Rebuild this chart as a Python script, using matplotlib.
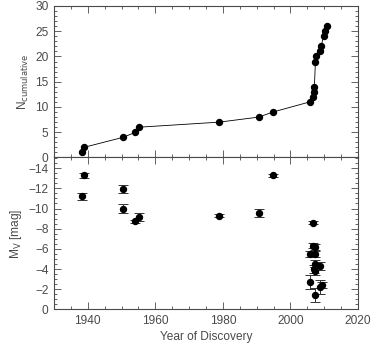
import numpy as np
import matplotlib
matplotlib.use("Agg")
import matplotlib.pyplot as plt
from matplotlib.ticker import MultipleLocator

plt.rcParams['font.family'] = ['Liberation Sans', 'DejaVu Sans']

# cumulative number of satellites vs. discovery date
cum_year = [1938.2, 1938.8, 1950.5, 1954.1, 1955.2, 1978.9, 1990.6, 1994.8,
            2005.7, 2006.8, 2006.9, 2007.1, 2007.4, 2007.6, 2008.7, 2009.1,
            2009.8, 2010.2, 2010.7]
cum_n = [1, 2, 4, 5, 6, 7, 8, 9, 11, 12, 13, 14, 19, 20, 21, 22, 24, 25, 26]

# absolute V magnitudes with errors
mv_year = [1938.2, 1938.8, 1950.5, 1950.5, 1954.0, 1955.1, 1978.9, 1990.6,
           1994.7, 2005.8, 2005.7, 2006.8, 2006.8, 2007.2, 2007.2, 2007.2,
           2008.9, 2007.0, 2007.2, 2009.4, 2008.7, 2007.2]
mv = [-11.2, -13.3, -11.9, -10.0, -8.75, -9.2, -9.3, -9.6,
      -13.3, -5.5, -2.7, -8.6, -6.3, -6.2, -5.5, -4.55,
      -4.35, -4.0, -3.8, -2.45, -2.2, -1.45]
mv_err = [0.35, 0.25, 0.4, 0.4, 0.15, 0.4, 0.15, 0.4,
          0.15, 0.3, 0.7, 0.15, 0.25, 0.3, 0.3, 0.35,
          0.4, 0.4, 0.4, 0.3, 0.7, 0.7]

grey = '#4a4a4a'
fs = 8.6
fig = plt.figure(figsize=(3.79, 3.46), dpi=100)
ax1 = fig.add_axes([0.1425, 0.5448, 0.802, 0.4379])
ax2 = fig.add_axes([0.1425, 0.1055, 0.802, 0.4393])

ax1.plot(cum_year, cum_n, '-', color='k', lw=0.6)
ax1.plot(cum_year, cum_n, 'o', color='k', ms=4.3)
ax1.set_ylim(0, 30)
ax1.yaxis.set_major_locator(MultipleLocator(5))
ax1.yaxis.set_minor_locator(MultipleLocator(1))
ax1.set_ylabel(r'N$_{\rm cumulative}$', color=grey, fontsize=fs, labelpad=3)

ax2.errorbar(mv_year, mv, yerr=mv_err, fmt='o', color='k', ms=4.3,
             ecolor='#333333', elinewidth=0.7, capsize=3.3, capthick=0.7)
ax2.set_ylim(0, -15.05)
ax2.yaxis.set_major_locator(MultipleLocator(2))
ax2.yaxis.set_minor_locator(MultipleLocator(0.5))
ax2.set_ylabel(r'M$_{\rm V}$ [mag]', color=grey, fontsize=fs, labelpad=3)
ax2.set_xlabel('Year of Discovery', color=grey, fontsize=fs, labelpad=3)

for ax in (ax1, ax2):
    ax.set_xlim(1930, 2020)
    ax.set_xticks([1940, 1960, 1980, 2000, 2020])
    ax.xaxis.set_minor_locator(MultipleLocator(5))
    ax.tick_params(which='both', direction='in', top=True, right=True,
                   color=grey, labelcolor=grey, labelsize=fs, width=0.6)
    ax.tick_params(which='major', length=5, pad=4)
    ax.tick_params(which='minor', length=2.5)
    for s in ax.spines.values():
        s.set_color(grey)
        s.set_linewidth(0.8)
ax1.tick_params(labelbottom=False)

fig.savefig('out.png', dpi=100)
